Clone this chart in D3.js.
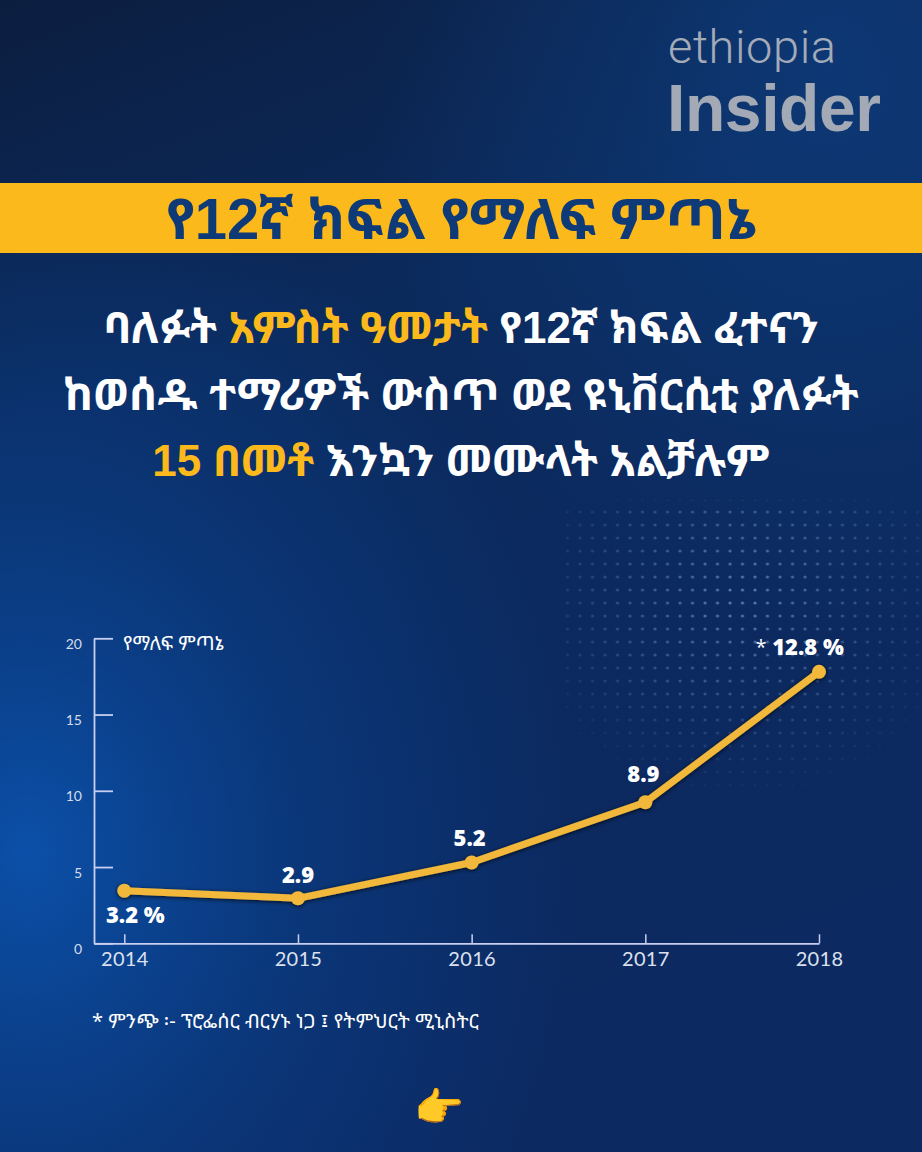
<!DOCTYPE html>
<html>
<head>
<meta charset="utf-8">
<script src="https://cdn.jsdelivr.net/npm/d3@7/dist/d3.min.js"></script>
<style>
  html, body { margin: 0; padding: 0; background: #0b2452; }
  svg { display: block; }
  .eth { font-family: "Noto Sans Ethiopic", "Abyssinica SIL", "Noto Serif Ethiopic", "DejaVu Sans", "FreeSerif", sans-serif; }
</style>
</head>
<body>
<svg id="chart" width="922" height="1152"></svg>
<script>
// ---- data ----
const years = [2014, 2015, 2016, 2017, 2018];
const plottedValues = [3.45, 2.95, 5.3, 9.25, 17.8];   // positions as drawn in the graphic
const valueLabels = ["3.2 %", "2.9", "5.2", "8.9", "12.8 %"];
const yTicks = [0, 5, 10, 15, 20];
const yAxisTitle = "የማለፍ ምጣኔ";
const bannerTitle = ["የ", "12", "ኛ ክፍል የማለፍ ምጣኔ"];
const subtitleLines = [
  [["ባለፉት ", "w"], ["አምስት ዓመታት", "o"], [" የ", "w"], ["12", "wn"], ["ኛ ክፍል ፈተናን", "w"]],
  [["ከወሰዱ ተማሪዎች ውስጥ ወደ ዩኒቨርሲቲ ያለፉት", "w"]],
  [["15", "on"], [" በመቶ", "o"], [" እንኳን መሙላት አልቻሉም", "w"]]
];
const sourceNote = "* ምንጭ ፡- ፕሮፌሰር ብርሃኑ ነጋ ፤ የትምህርት ሚኒስትር";

// ---- setup ----
const W = 922, H = 1152;
const svg = d3.select("#chart");
const defs = svg.append("defs");

// background
const g1 = defs.append("linearGradient").attr("id", "bgLin").attr("x1", 0).attr("y1", 0).attr("x2", 0.3).attr("y2", 1);
g1.append("stop").attr("offset", "0%").attr("stop-color", "#0c1e40");
g1.append("stop").attr("offset", "35%").attr("stop-color", "#0b2a5c");
g1.append("stop").attr("offset", "100%").attr("stop-color", "#0c2961");
const r1 = defs.append("radialGradient").attr("id", "bgGlow")
  .attr("cx", 0.03).attr("cy", 0.74).attr("r", 0.6);
r1.append("stop").attr("offset", "0%").attr("stop-color", "#0b52ad").attr("stop-opacity", 0.95);
r1.append("stop").attr("offset", "60%").attr("stop-color", "#0a3f8a").attr("stop-opacity", 0.45);
r1.append("stop").attr("offset", "100%").attr("stop-color", "#0a3f8a").attr("stop-opacity", 0);
const r2 = defs.append("radialGradient").attr("id", "bgGlow2")
  .attr("cx", 0.9).attr("cy", 0.05).attr("r", 0.5);
r2.append("stop").attr("offset", "0%").attr("stop-color", "#0e3c7c").attr("stop-opacity", 0.8);
r2.append("stop").attr("offset", "100%").attr("stop-color", "#0e3c7c").attr("stop-opacity", 0);

svg.append("rect").attr("width", W).attr("height", H).attr("fill", "url(#bgLin)");
svg.append("rect").attr("width", W).attr("height", H).attr("fill", "url(#bgGlow)");
svg.append("rect").attr("width", W).attr("height", H).attr("fill", "url(#bgGlow2)");

// dot grid decoration
const dotMask = defs.append("radialGradient").attr("id", "dotFade").attr("cx", 0.5).attr("cy", 0.3).attr("r", 0.65);
dotMask.append("stop").attr("offset", "0%").attr("stop-color", "#fff").attr("stop-opacity", 1);
dotMask.append("stop").attr("offset", "100%").attr("stop-color", "#fff").attr("stop-opacity", 0);
const mask = defs.append("mask").attr("id", "dm");
mask.append("rect").attr("x", 560).attr("y", 500).attr("width", 362).attr("height", 320).attr("fill", "url(#dotFade)");
const pat = defs.append("pattern").attr("id", "dots").attr("patternUnits", "userSpaceOnUse")
  .attr("width", 12.5).attr("height", 13).attr("x", 2).attr("y", 2);
pat.append("circle").attr("cx", 3).attr("cy", 3).attr("r", 1.6).attr("fill", "#6f97d0");
svg.append("rect").attr("x", 560).attr("y", 500).attr("width", 362).attr("height", 320)
  .attr("fill", "url(#dots)").attr("mask", "url(#dm)").attr("opacity", 0.75);

// logo
svg.append("text").attr("x", 668).attr("y", 63)
  .attr("font-family", "Roboto, 'Open Sans', sans-serif").attr("font-weight", 300)
  .attr("font-size", 47).attr("fill", "#a4abb8").attr("textLength", 168).text("ethiopia");
svg.append("text").attr("x", 667).attr("y", 131)
  .attr("font-family", "'Liberation Sans', Arial, sans-serif").attr("font-weight", 700)
  .attr("font-size", 66).attr("fill", "#a3aab6").attr("textLength", 214).text("Insider");

// banner
svg.append("rect").attr("x", 0).attr("y", 183).attr("width", W).attr("height", 70).attr("fill", "#fbb91c");
const bt = svg.append("text").attr("class", "eth").attr("x", W / 2).attr("y", 239)
  .attr("text-anchor", "middle").attr("font-size", 56).attr("font-weight", 700).attr("fill", "#0f3a78");
bt.append("tspan").text(bannerTitle[0]);
bt.append("tspan").attr("font-family", "'Liberation Sans', Arial, sans-serif").attr("font-size", 58).text(bannerTitle[1]);
bt.append("tspan").text(bannerTitle[2]);

// subtitle
const subBase = [343, 410, 476];
subtitleLines.forEach((parts, i) => {
  const t = svg.append("text").attr("class", "eth").attr("x", W / 2).attr("y", subBase[i])
    .attr("text-anchor", "middle").attr("font-size", 44).attr("font-weight", 700);
  parts.forEach(([s, k]) => {
    const sp = t.append("tspan").text(s).attr("fill", k.startsWith("o") ? "#fbb91c" : "#ffffff");
    if (k.endsWith("n")) sp.attr("font-family", "'Liberation Sans', Arial, sans-serif").attr("font-size", 44);
  });
});

// ---- chart ----
const x = d3.scaleLinear().domain([2014 - 30.3 / 173.7, 2018]).range([94, 819]);
const y = d3.scaleLinear().domain([0, 20]).range([943.3, 638.3]);
const axisColor = "#c9cff0";

const gy = svg.append("g").attr("transform", `translate(${x.range()[0]},0)`)
  .call(d3.axisLeft(y).tickValues(yTicks).tickSizeInner(-19).tickSizeOuter(0).tickPadding(12));
gy.select(".domain").attr("stroke", axisColor).attr("stroke-width", 1.8);
gy.selectAll(".tick line").attr("stroke", axisColor).attr("stroke-width", 1.8);
gy.selectAll(".tick text").attr("fill", "#d6dbea").attr("font-size", 14)
  .attr("font-family", "Lato, 'Open Sans', sans-serif").attr("dy", "0.72em");

const gx = svg.append("g").attr("transform", `translate(0,${y(0)})`)
  .call(d3.axisBottom(x).tickValues(years).tickFormat(d3.format("d")).tickSizeInner(-9).tickSizeOuter(0).tickPadding(10));
gx.select(".domain").attr("stroke", axisColor).attr("stroke-width", 1.8);
gx.selectAll(".tick line").attr("stroke", axisColor).attr("stroke-width", 1.5);
gx.selectAll(".tick text").attr("fill", "#dde1ee").attr("font-size", 20)
  .attr("font-family", "Lato, 'Open Sans', sans-serif").attr("dy", "0.62em").attr("letter-spacing", 0.3);

svg.append("text").attr("class", "eth").attr("x", 123).attr("y", 650)
  .attr("font-size", 20).attr("fill", "#ffffff").text(yAxisTitle);

// line
const shadow = defs.append("filter").attr("id", "sh").attr("x", -0.1).attr("y", -0.2).attr("width", 1.2).attr("height", 1.4);
shadow.append("feDropShadow").attr("dx", 0).attr("dy", 1).attr("stdDeviation", 2).attr("flood-color", "#000").attr("flood-opacity", 0.8);

const pts = years.map((yr, i) => ({ yr, v: plottedValues[i], label: valueLabels[i] }));
const lineGen = d3.line().x(d => x(d.yr)).y(d => y(d.v));
const lg = svg.append("g").attr("filter", "url(#sh)");
lg.append("path").datum(pts).attr("d", lineGen).attr("fill", "none")
  .attr("stroke", "#f1b83a").attr("stroke-width", 7).attr("stroke-linejoin", "round").attr("stroke-linecap", "round");
lg.selectAll("circle").data(pts).join("circle")
  .attr("cx", d => x(d.yr)).attr("cy", d => y(d.v)).attr("r", 7).attr("fill", "#f1b83a");

// value labels (offsets relative to points)
const labelOffsets = [[11, 32], [0, -15], [-2, -16], [-2, -20], [-11, -17]];
svg.append("g").selectAll("text").data(pts).join("text")
  .attr("x", (d, i) => x(d.yr) + labelOffsets[i][0])
  .attr("y", (d, i) => y(d.v) + labelOffsets[i][1])
  .attr("text-anchor", "middle").attr("font-family", "'Open Sans', Lato, sans-serif")
  .attr("font-weight", 800).attr("font-size", 22).attr("fill", "#ffffff")
  .text(d => d.label);
// asterisk for last value
svg.append("text")
  .attr("x", x(years[4]) - 58).attr("y", y(plottedValues[4]) - 18)
  .attr("font-family", "'Open Sans', sans-serif").attr("font-size", 20).attr("fill", "#ffffff")
  .attr("text-anchor", "middle").text("*");

// source
svg.append("text").attr("class", "eth").attr("x", 92).attr("y", 1028)
  .attr("font-size", 20).attr("fill", "#ffffff").text(sourceNote);

// pointing hand
svg.append("text").attr("x", 439).attr("y", 1121).attr("text-anchor", "middle")
  .attr("font-size", 40).attr("font-family", "'Noto Color Emoji', sans-serif").text("👉");
</script>
</body>
</html>
